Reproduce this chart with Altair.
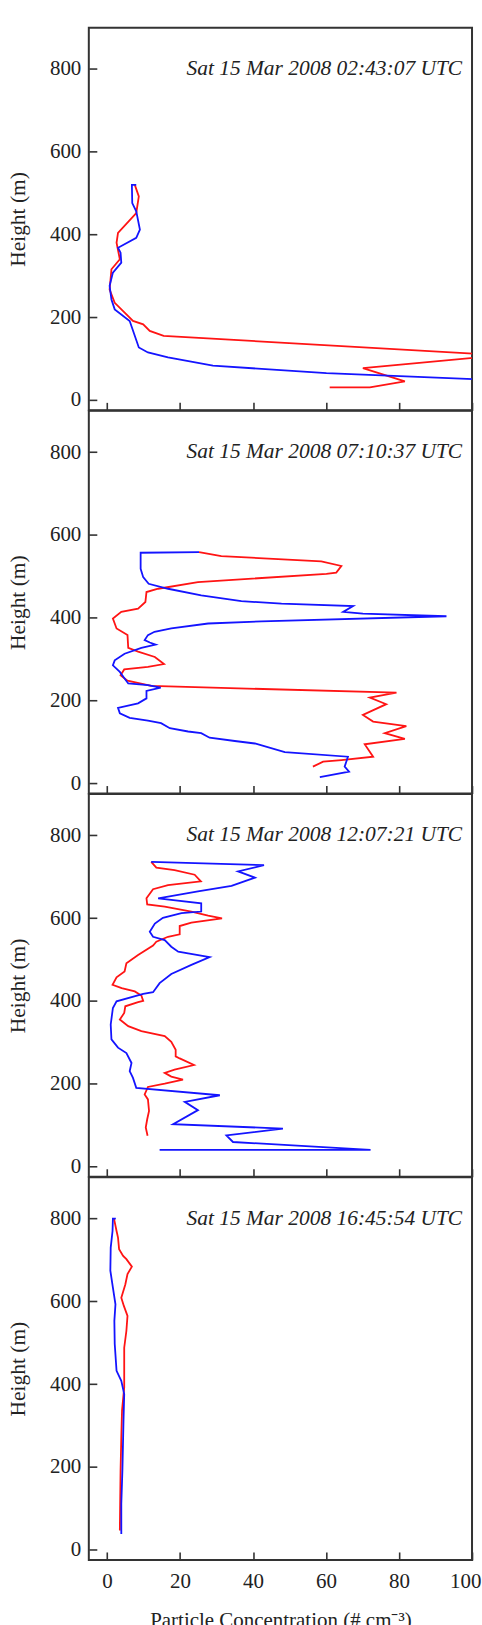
import altair as alt
import pandas as pd

# ---- data (x = concentration, h = height in m) ----
P1_RED_X = [7.6, 8.7, 8.0, 3.0, 2.6, 3.5, 1.2, 0.7, 2.1, 5.3, 7.1, 9.9, 11.7, 15.5, 108, 70.1, 81.6, 72, 61]
P1_RED_H = [520, 492, 452, 404, 380, 340, 316, 267, 235, 207, 191, 183, 167, 155, 108, 77, 45, 30.5, 30.5]
P1_BLUE_X = [8.0, 6.8, 6.9, 8.0, 9.0, 8.0, 3.0, 3.7, 3.9, 1.6, 0.7, 1.2, 2.1, 6.2, 8.7, 11.2, 16.7, 29.0, 60.1, 110]
P1_BLUE_H = [520, 520, 476, 456, 412, 392, 368, 356, 332, 308, 276, 243, 219, 191, 127, 115, 103, 83, 65, 47]

P2_RED_X = [25.2, 31.3, 58.7, 64.2, 62.8, 60.1, 24.9, 14, 10.8, 10.5, 8.5, 3.9, 1.6, 2.6, 5.6, 5.8, 8.5, 13.1,
            15.6, 11.2, 4.7, 3.7, 5.6, 12.1, 79.3, 72, 76.5, 70.1, 72.9, 82, 76.1, 81.6, 70.6, 72.9, 64.2, 59.2, 56.4]
P2_RED_H = [558.5, 549, 536, 525, 509, 506, 486, 470, 462, 438, 422, 414, 398, 374, 358, 327, 318, 305,
            288, 281, 275, 261, 248, 235, 219, 207, 191, 165, 149, 138, 121, 107, 94, 64, 56, 52, 40]
P2_BLUE_X = [25.2, 9.2, 9.2, 9.9, 11.4, 16.7, 25.8, 36.8, 47.8, 67.4, 64.7, 70.1, 93, 42.3, 27.7, 17.6, 13,
             11.2, 10.3, 11.7, 13.3, 9.4, 4.8, 2.1, 1.6, 3.5, 4.8, 5.8, 11.2, 14.7, 10.8, 10.8, 8.5, 3.0, 3.5,
             6.2, 11.2, 14.8, 17.2, 22.2, 25.8, 28.1, 35, 40.5, 48.7, 66, 65.1, 66.3, 58.3]
P2_BLUE_H = [558.5, 557, 518, 498, 482, 470, 454, 440, 434, 428, 414, 410, 403.5, 391, 386, 374, 366,
             358, 346, 340, 335, 327, 313, 297, 285, 269, 253, 241, 237, 231, 223, 205, 193, 182, 169,
             158, 151, 145, 133, 125, 121, 110, 102, 96, 75, 64, 40, 28, 14.5]

P3_RED_X = [12.1, 13.5, 18.5, 24, 25.7, 16.7, 12.6, 10.8, 11, 15.8, 23.1, 27.7, 31.5, 23.1, 19.9, 19.9, 16.7,
            13.5, 12.6, 8.5, 5.3, 4.8, 2.6, 1.5, 4, 7.6, 9.4, 9.9, 8.5, 5.0, 4.7, 3.5, 5.8, 9.4, 15.8, 17.6,
            18.8, 18.8, 19.9, 23.8, 18.5, 15.8, 17.6, 20.8, 15.8, 11.2, 10.3, 11.2, 11.5, 11, 10.6, 11.1]
P3_RED_H = [736, 722, 716, 705, 689, 680, 670, 648, 633, 628, 616, 606, 599.5, 589, 581, 561, 555,
            543, 534, 511, 491, 471, 457, 439, 431, 423, 413, 400, 397, 387, 371, 355, 339, 327, 315, 301,
            282, 266, 261, 245, 234, 226, 217, 210, 200, 192, 174, 162, 134, 114, 94, 74]
P3_BLUE_X = [12.1, 43, 35.9, 40.5, 34.1, 24.9, 14, 25.8, 25.8, 20.4, 15.3, 13.1, 11.7, 12.6, 15.8, 17.6, 19.5,
             22.2, 28.1, 23.1, 17.6, 14.4, 12.6, 9.9, 2.6, 1.6, 1.0, 1.2, 3.0, 5.3, 6.7, 6.2, 7.1, 8.0, 30.9,
             21.3, 24.9, 18.1, 48.2, 32.7, 34.5, 72.2, 14.4]
P3_BLUE_H = [736, 728, 713, 698, 678, 665, 648, 636, 616, 612, 601, 587, 567, 555, 547, 531, 519,
             515, 506, 487, 465, 443, 421, 417, 399, 383, 343, 307, 287, 274, 250, 230, 214, 190, 172,
             156, 136, 102, 91.5, 75, 59, 40, 40]

P4_RED_X = [1.9, 2.6, 3.0, 3.3, 4.4, 5.3, 6.8, 5.6, 5.0, 3.9, 4.6, 5.6, 5.3, 4.7, 4.7, 4.1, 3.9, 3.7, 3.5]
P4_RED_H = [800, 770, 754, 726, 710, 702, 684, 666, 641, 609, 589, 565, 529, 488, 392, 336, 271, 191, 46]
P4_BLUE_X = [2.4, 1.6, 1.5, 1.0, 0.9, 1.6, 2.3, 2.0, 2.1, 2.6, 3.9, 4.7, 4.5, 4.2, 3.9, 3.9]
P4_BLUE_H = [800, 800, 770, 730, 674, 633, 593, 553, 497, 432, 408, 376, 311, 191, 110, 38]

TIMES = [
    "Sat 15 Mar 2008 02:43:07 UTC",
    "Sat 15 Mar 2008 07:10:37 UTC",
    "Sat 15 Mar 2008 12:07:21 UTC",
    "Sat 15 Mar 2008 16:45:54 UTC",
]
SERIES = ["red", "blue"]
X_TICKS = [0, 20, 40, 60, 80, 100]
Y_TICKS = [0, 200, 400, 600, 800]

PANELS = [
    (P1_RED_X, P1_RED_H, P1_BLUE_X, P1_BLUE_H),
    (P2_RED_X, P2_RED_H, P2_BLUE_X, P2_BLUE_H),
    (P3_RED_X, P3_RED_H, P3_BLUE_X, P3_BLUE_H),
    (P4_RED_X, P4_RED_H, P4_BLUE_X, P4_BLUE_H),
]

rows = []
for p, (rx, rh, bx, bh) in enumerate(PANELS):
    for name, xs, hs in (("red", rx, rh), ("blue", bx, bh)):
        for i, (x, h) in enumerate(zip(xs, hs)):
            rows.append({"panel": p, "series": name, "x": x, "h": h, "i": i})
df = pd.DataFrame(rows)

FONT = "Liberation Serif"
INK = "#222222"
xscale = alt.Scale(domain=[-5, 100], nice=False, zero=False)
yscale = alt.Scale(domain=[-25, 900], nice=False, zero=False)
cscale = alt.Scale(domain=SERIES, range=["#ff1414", "#1414ff"])


def make_panel(p):
    last = p == 3
    xkw = dict(values=X_TICKS, grid=False, domain=False, offset=-8, tickSize=8,
               tickColor="#333333", tickWidth=1.6, labels=last, labelFlush=True,
               labelFlushOffset=9)
    if last:
        xkw.update(labelFont=FONT, labelFontSize=21, labelColor=INK, labelPadding=11,
                   title="Particle Concentration (# cm⁻³)", titleFont=FONT, titleFontSize=21,
                   titleFontWeight="normal", titleColor=INK, titlePadding=18)
    else:
        xkw.update(title=None)
    yaxis = alt.Axis(values=Y_TICKS, grid=False, domain=False, offset=-8, tickSize=8,
                     tickColor="#333333", tickWidth=1.6, labelFont=FONT, labelFontSize=21,
                     labelColor=INK, labelPadding=8, labelFlush=False, title="Height (m)",
                     titleFont=FONT, titleFontSize=21.5, titleFontWeight="normal", titleColor=INK,
                     titlePadding=20)
    lines = alt.Chart(df[df.panel == p]).mark_line(strokeWidth=1.8, clip=True).encode(
        x=alt.X("x:Q", scale=xscale, axis=alt.Axis(**xkw)),
        y=alt.Y("h:Q", scale=yscale, axis=yaxis),
        color=alt.Color("series:N", scale=cscale, legend=None),
        detail="series:N",
        order=alt.Order("i:Q"),
    )
    label = alt.Chart(pd.DataFrame({"t": [TIMES[p]], "x": [97.3], "h": [800]})).mark_text(
        align="right", baseline="middle", font=FONT, fontStyle="italic", fontSize=21.5, color=INK
    ).encode(
        x=alt.X("x:Q", scale=xscale),
        y=alt.Y("h:Q", scale=yscale),
        text="t:N",
    )
    return alt.layer(lines, label).properties(width=384, height=383.5)


chart = alt.vconcat(*[make_panel(p) for p in range(4)], spacing=0, bounds="flush").configure_view(
    stroke="#333333", strokeWidth=2
).properties(
    padding={"left": 6, "top": 25, "right": 0, "bottom": 0}, background="white"
)

chart.save("out.html", embed_options={"renderer": "svg", "actions": False})
